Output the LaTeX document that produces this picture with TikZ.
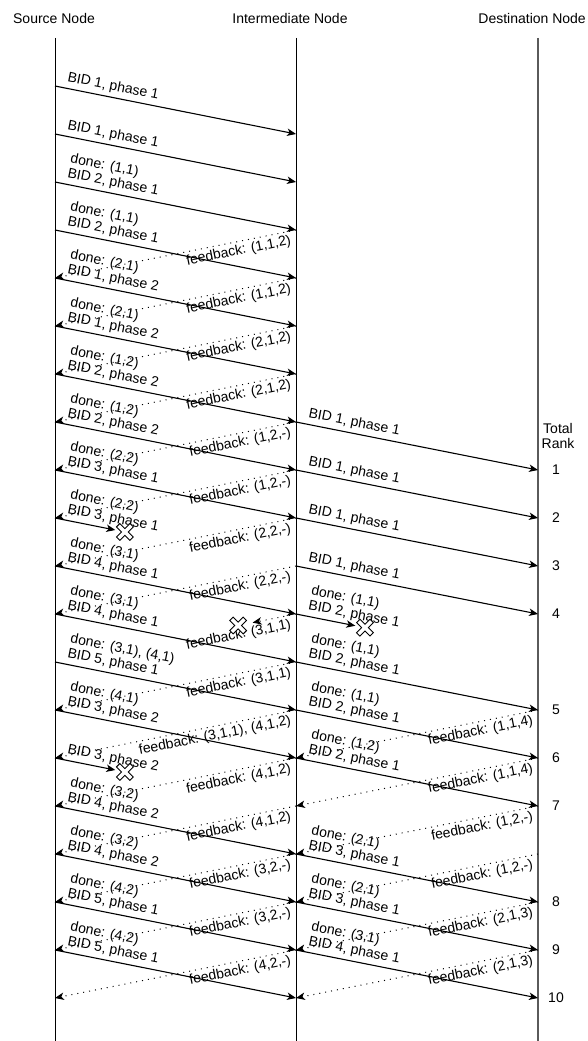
\documentclass[tikz,border=0pt]{standalone}
\usepackage{fontspec}
\setmainfont{Liberation Sans}
\usetikzlibrary{arrows.meta,calc}
\definecolor{seqink}{HTML}{000000}
\definecolor{seqgrey}{HTML}{5A5A5A}
\newcommand{\lblfont}{\fontsize{14}{15}\selectfont}
\tikzset{
  hdr/.style  ={font=\lblfont, inner sep=0pt},
  life/.style ={draw=seqink, line width=1pt},
  msg/.style  ={-{Stealth[length=9pt, width=7.5pt, inset=2.5pt]}, draw=seqink,
                line width=1.1pt},
  fb/.style   ={msg, line width=1pt, dash pattern=on 1pt off 5pt},
  mlbl/.style ={sloped, pos=0.04, anchor=south west, align=left,
                inner xsep=0.5pt, inner ysep=3.5pt, font=\lblfont},
  flbl/.style ={sloped, pos=0.025, anchor=north east, inner xsep=0.5pt,
                inner ysep=2.5pt, font=\lblfont},
  rank/.style ={align=center, inner sep=0pt, font=\lblfont},
  lostx/.pic  ={\draw[draw=seqink, line width=0.9pt, fill=white, rotate=45]
                (-2.4,-9.5) -- (2.4,-9.5) -- (2.4,-2.4) -- (9.5,-2.4) --
                (9.5,2.4) -- (2.4,2.4) -- (2.4,9.5) -- (-2.4,9.5) --
                (-2.4,2.4) -- (-9.5,2.4) -- (-9.5,-2.4) -- (-2.4,-2.4) -- cycle;},
}

\begin{document}
\begin{tikzpicture}[x=1pt, y=-1pt]
  \useasboundingbox (0,0) rectangle (587,1041);

  % heads and lifelines
  \node[hdr] (src) at (54,18) {Source Node};
  \node[hdr] (mid) at (290,18) {Intermediate Node};
  \node[hdr, anchor=east] (dst) at (586,18) {Destination Node};
  \coordinate (stop) at (55,38);  \coordinate (sbot) at (55,1041);
  \coordinate (itop) at (296,38); \coordinate (ibot) at (296,1041);
  \coordinate (dtop) at (538,38); \coordinate (dbot) at (538,1041);
  \draw[life] (stop) -- (sbot);
  \draw[life] (itop) -- (ibot);
  \draw[life, draw=seqgrey, line width=1.4pt] (dtop) -- (dbot);

  \foreach \k in {0,...,19}{
    \coordinate (s\k) at (55,86+48*\k);
    \coordinate (i\k) at (296,86+48*\k);
    \coordinate (d\k) at (538,86+48*\k);
  }

  % source -> intermediate
  \draw[msg] (s0) -- node[mlbl] {BID 1, phase 1} (i1);
  \draw[msg] (s1) -- node[mlbl] {BID 1, phase 1} (i2);
  \draw[msg] (s2) -- node[mlbl] {done: (1,1)\\BID 2, phase 1} (i3);
  \draw[msg] (s3) -- node[mlbl] {done: (1,1)\\BID 2, phase 1} (i4);
  \draw[msg] (s4) -- node[mlbl] {done: (2,1)\\BID 1, phase 2} (i5);
  \draw[msg] (s5) -- node[mlbl] {done: (2,1)\\BID 1, phase 2} (i6);
  \draw[msg] (s6) -- node[mlbl] {done: (1,2)\\BID 2, phase 2} (i7);
  \draw[msg] (s7) -- node[mlbl] {done: (1,2)\\BID 2, phase 2} (i8);
  \draw[msg] (s8) -- node[mlbl] {done: (2,2)\\BID 3, phase 1} (i9);
  \draw[msg] (s9) -- node[mlbl, pos=0.16] {done: (2,2)\\BID 3, phase 1}
    ($(s9)!0.25!(i10)$);
  \pic at ($(s9)!0.29!(i10)$) {lostx};
  \draw[msg] (s10) -- node[mlbl] {done: (3,1)\\BID 4, phase 1} (i11);
  \draw[msg] (s11) -- node[mlbl] {done: (3,1)\\BID 4, phase 1} (i12);
  \draw[msg] (s12) -- node[mlbl] {done: (3,1), (4,1)\\BID 5, phase 1} (i13);
  \draw[msg] (s13) -- node[mlbl] {done: (4,1)\\BID 3, phase 2} (i14);
  \draw[msg] (s14) -- node[mlbl, pos=0.16] {BID 3, phase 2}
    ($(s14)!0.25!(i15)$);
  \pic at ($(s14)!0.29!(i15)$) {lostx};
  \draw[msg] (s15) -- node[mlbl] {done: (3,2)\\BID 4, phase 2} (i16);
  \draw[msg] (s16) -- node[mlbl] {done: (3,2)\\BID 4, phase 2} (i17);
  \draw[msg] (s17) -- node[mlbl] {done: (4,2)\\BID 5, phase 1} (i18);
  \draw[msg] (s18) -- node[mlbl] {done: (4,2)\\BID 5, phase 1} (i19);

  % intermediate -> source feedback
  \draw[fb] (i3) -- node[flbl] {feedback: (1,1,2)} (s4);
  \draw[fb] (i4) -- node[flbl] {feedback: (1,1,2)} (s5);
  \draw[fb] (i5) -- node[flbl] {feedback: (2,1,2)} (s6);
  \draw[fb] (i6) -- node[flbl] {feedback: (2,1,2)} (s7);
  \draw[fb] (i7) -- node[flbl] {feedback: (1,2,-)} (s8);
  \draw[fb] (i8) -- node[flbl] {feedback: (1,2,-)} (s9);
  \draw[fb] (i9) -- node[flbl] {feedback: (2,2,-)} (s10);
  \draw[fb] (i10) -- node[flbl] {feedback: (2,2,-)} (s11);
  \draw[fb] (i11) -- node[flbl, pos=0.14] {feedback: (3,1,1)}
    ($(i11)!0.18!(s12)$);
  \pic at ($(i11)!0.24!(s12)$) {lostx};
  \draw[fb] (i12) -- node[flbl] {feedback: (3,1,1)} (s13);
  \draw[fb] (i13) -- node[flbl] {feedback: (3,1,1), (4,1,2)} (s14);
  \draw[fb] (i14) -- node[flbl] {feedback: (4,1,2)} (s15);
  \draw[fb] (i15) -- node[flbl] {feedback: (4,1,2)} (s16);
  \draw[fb] (i16) -- node[flbl] {feedback: (3,2,-)} (s17);
  \draw[fb] (i17) -- node[flbl] {feedback: (3,2,-)} (s18);
  \draw[fb] (i18) -- node[flbl] {feedback: (4,2,-)} (s19);

  % intermediate -> destination
  \draw[msg] (i7) -- node[mlbl] {BID 1, phase 1} (d8);
  \draw[msg] (i8) -- node[mlbl] {BID 1, phase 1} (d9);
  \draw[msg] (i9) -- node[mlbl] {BID 1, phase 1} (d10);
  \draw[msg] (i10) -- node[mlbl] {BID 1, phase 1} (d11);
  \draw[msg] (i11) -- node[mlbl, pos=0.16] {done: (1,1)\\BID 2, phase 1}
    ($(i11)!0.245!(d12)$);
  \pic at ($(i11)!0.285!(d12)$) {lostx};
  \draw[msg] (i12) -- node[mlbl] {done: (1,1)\\BID 2, phase 1} (d13);
  \draw[msg] (i13) -- node[mlbl] {done: (1,1)\\BID 2, phase 1} (d14);
  \draw[msg] (i14) -- node[mlbl] {done: (1,2)\\BID 2, phase 1} (d15);
  \draw[msg] (i16) -- node[mlbl] {done: (2,1)\\BID 3, phase 1} (d17);
  \draw[msg] (i17) -- node[mlbl] {done: (2,1)\\BID 3, phase 1} (d18);
  \draw[msg] (i18) -- node[mlbl] {done: (3,1)\\BID 4, phase 1} (d19);

  % destination -> intermediate feedback
  \draw[fb] (d13) -- node[flbl] {feedback: (1,1,4)} (i14);
  \draw[fb] (d14) -- node[flbl] {feedback: (1,1,4)} (i15);
  \draw[fb] (d15) -- node[flbl] {feedback: (1,2,-)} (i16);
  \draw[fb] (d16) -- node[flbl] {feedback: (1,2,-)} (i17);
  \draw[fb] (d17) -- node[flbl] {feedback: (2,1,3)} (i18);
  \draw[fb] (d18) -- node[flbl] {feedback: (2,1,3)} (i19);

  % total rank column
  \node[rank] (rhead) at (558,436) {Total\\Rank};
  \node[rank] (r1) at (556,470) {1};
  \node[rank] (r2) at (556,518) {2};
  \node[rank] (r3) at (556,566) {3};
  \node[rank] (r4) at (556,614) {4};
  \node[rank] (r5) at (556,710) {5};
  \node[rank] (r6) at (556,758) {6};
  \node[rank] (r7) at (556,806) {7};
  \node[rank] (r8) at (556,902) {8};
  \node[rank] (r9) at (556,950) {9};
  \node[rank] (r10) at (556,998) {10};
\end{tikzpicture}
\end{document}
